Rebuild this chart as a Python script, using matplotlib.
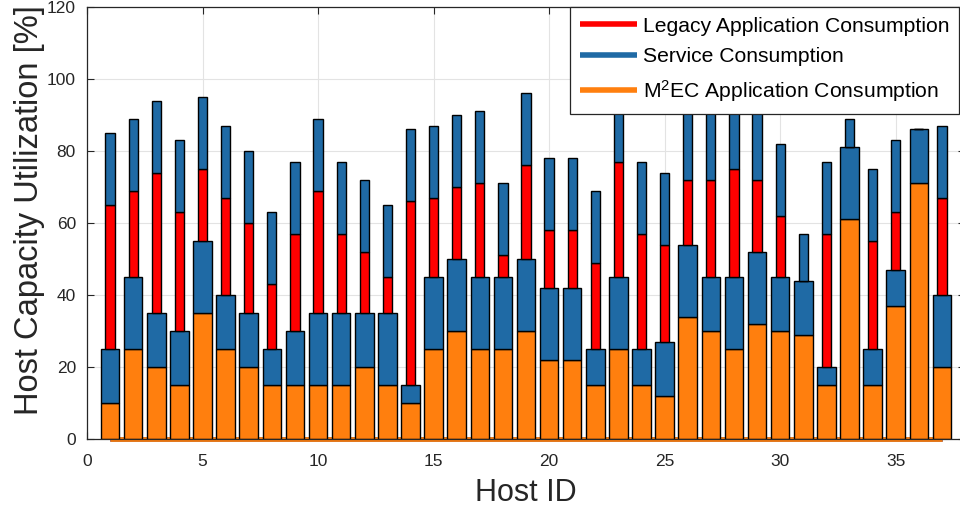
import numpy as np
import matplotlib
matplotlib.use("Agg")
import matplotlib.pyplot as plt

plt.rcParams['font.family'] = ['Liberation Sans', 'DejaVu Sans']
plt.rcParams['mathtext.fontset'] = 'custom'
plt.rcParams['mathtext.rm'] = 'Liberation Sans'
plt.rcParams['mathtext.it'] = 'Liberation Sans:italic'
plt.rcParams['mathtext.bf'] = 'Liberation Sans:bold'

# Per-host consumption (% of host capacity), hosts 1..37
host_ids = list(range(1, 38))
m2ec_app = [10, 25, 20, 15, 35, 25, 20, 15, 15, 15, 15, 20, 15, 10, 25, 30, 25, 25, 30, 22,
            22, 15, 25, 15, 12, 34, 30, 25, 32, 30, 29, 15, 61, 15, 37, 71, 20]
service_m2ec = [15, 20, 15, 15, 20, 15, 15, 10, 15, 20, 20, 15, 20, 5, 20, 20, 20, 20, 20, 20,
                20, 10, 20, 10, 15, 20, 15, 20, 20, 15, 15, 5, 20, 10, 10, 15, 20]
legacy_app = [40, 24, 39, 33, 20, 27, 25, 18, 27, 34, 22, 17, 10, 51, 22, 20, 26, 6, 26, 16,
              16, 24, 32, 32, 27, 18, 27, 30, 20, 17, 0, 37, 0, 30, 16, 0, 27]
service_legacy = [20, 20, 20, 20, 20, 20, 20, 20, 20, 20, 20, 20, 20, 20, 20, 20, 20, 20, 20, 20,
                  20, 20, 20, 20, 20, 20, 20, 20, 20, 20, 13, 20, 8, 20, 20, 0, 20]

x_ticks = [0, 5, 10, 15, 20, 25, 30, 35]
y_ticks = [0, 20, 40, 60, 80, 100, 120]

RED = '#FF0000'
BLUE = '#1F6AA5'
ORANGE = '#FF7F0E'
AXC = '#262626'

x = np.array(host_ids)
m2 = np.array(m2ec_app)
sv1 = np.array(service_m2ec)
lg = np.array(legacy_app)
sv2 = np.array(service_legacy)
base_top = m2 + sv1

W, H = 960, 514
fig = plt.figure(figsize=(W / 100, H / 100), dpi=100)
ax = fig.add_axes([87 / W, 75 / H, (965 - 87) / W, 432 / H])

# legend entries drawn as zero lines along the baseline
zeros = np.zeros_like(x)
l_red, = ax.plot(x, zeros, color=RED, lw=3.4, zorder=1.5, clip_on=False,
                 solid_capstyle='butt', label='Legacy Application Consumption')
l_blue, = ax.plot(x, zeros, color=BLUE, lw=3.4, zorder=1.5, clip_on=False,
                  solid_capstyle='butt', label='Service Consumption')
l_or, = ax.plot(x, zeros, color=ORANGE, lw=3.4, zorder=1.5, clip_on=False,
                solid_capstyle='butt', label='M$^{2}$EC Application Consumption')

# wide bars: M2EC application + its service
ax.bar(x, m2, width=0.8, color=ORANGE, edgecolor='black', linewidth=1.0, zorder=2)
ax.bar(x, sv1, width=0.8, bottom=m2, color=BLUE, edgecolor='black', linewidth=1.0, zorder=2)
# narrow bars: legacy application + its service, stacked on top
ax.bar(x, lg, width=0.4, bottom=base_top, color=RED, edgecolor='black', linewidth=1.0, zorder=2)
ax.bar(x, sv2, width=0.4, bottom=base_top + lg, color=BLUE, edgecolor='black', linewidth=1.0, zorder=2)

ax.set_xlim(0, 38)
ax.set_ylim(0, 120)
ax.set_xticks(x_ticks)
ax.set_yticks(y_ticks)
ax.grid(True, color='#E3E3E3', lw=0.8)
ax.set_axisbelow(True)
ax.tick_params(direction='in', top=True, right=True, length=5, width=0.8,
               colors=AXC, labelsize=12.5)
ax.tick_params(axis='x', pad=11)
ax.tick_params(axis='y', pad=8)
for s in ax.spines.values():
    s.set_color(AXC)
    s.set_linewidth(0.9)

ax.set_xlabel('Host ID', fontsize=22, color=AXC, labelpad=6)
ax.set_ylabel('Host Capacity Utilization [%]', fontsize=23.5, color=AXC)
ax.yaxis.set_label_coords(-42 / 878, 0.53)

leg = ax.legend(handles=[l_red, l_blue, l_or], loc='upper right', fontsize=15.2,
                bbox_to_anchor=(959 / W, 1 - 7 / H), bbox_transform=fig.transFigure,
                borderaxespad=0, frameon=True, fancybox=False, framealpha=1,
                edgecolor=AXC, handlelength=2.7, handletextpad=0.3,
                labelspacing=0.56, borderpad=0.45)
leg.get_frame().set_linewidth(0.9)
for line in leg.get_lines():
    line.set_linewidth(4)

fig.savefig('out.png', dpi=100)
